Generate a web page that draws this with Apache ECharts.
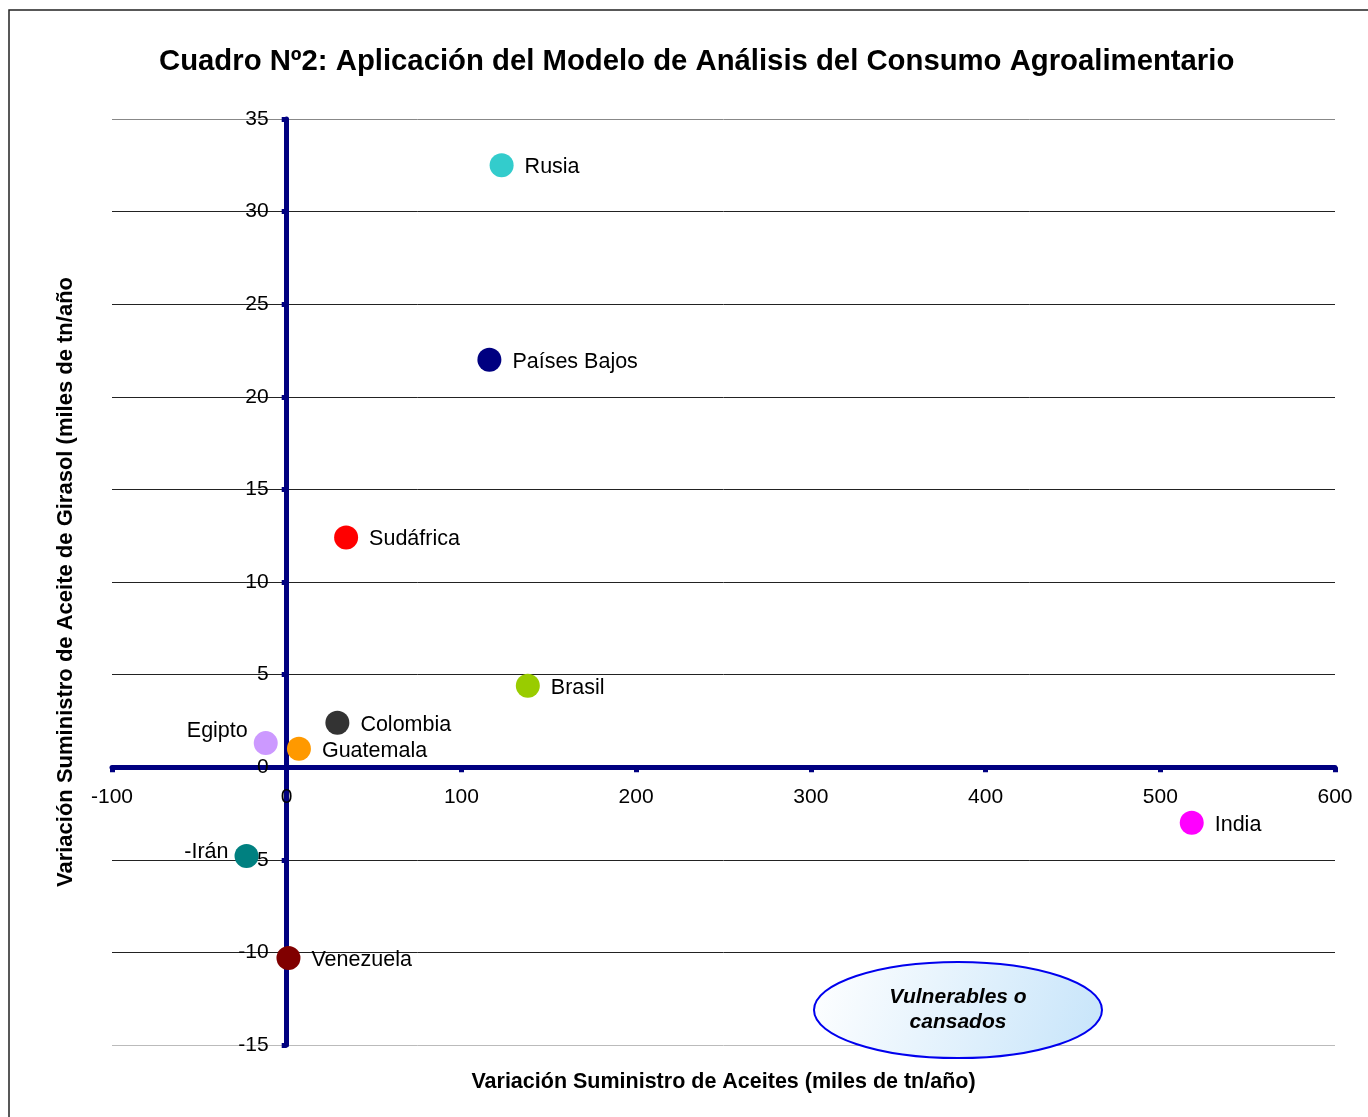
<!DOCTYPE html>
<html>
<head>
<meta charset="utf-8">
<script src="https://cdn.jsdelivr.net/npm/echarts@6/dist/echarts.min.js"></script>
<style>
html,body{margin:0;padding:0;background:#fff;}
#chart{width:1368px;height:1117px;}
</style>
</head>
<body>
<div id="chart"></div>
<script>
var countries = ['Rusia','Países Bajos','Sudáfrica','Brasil','Colombia','Egipto','Guatemala','-Irán','Venezuela','India'];
var xValues = [123, 116, 34, 138, 29, -12, 7, -23, 1, 518];
var yValues = [32.5, 22.0, 12.4, 4.4, 2.4, 1.3, 1.0, -4.8, -10.3, -3.0];
var colors = ['#33CCCC','#000080','#FF0000','#99CC00','#333333','#CC99FF','#FF9900','#008080','#800000','#FF00FF'];
var labelSide = ['right','right','right','right','right','left','right','left','right','right'];
var labelShift = [[0,2],[0,2],[0,2],[0,2],[0,2],[0,-12],[0,2],[0,-4],[0,2],[0,2]];
var gridColors = ['#bbbbbb','#222222','#222222','#222222','#222222','#222222','#222222','#222222','#222222','#222222','#888888'];

var X_MIN = -100, X_MAX = 600, Y_MIN = -15, Y_MAX = 35;
var G_LEFT = 112, G_RIGHT = 33, G_TOP = 119, G_BOTTOM = 72, W = 1368, H = 1117;
var plotW = W - G_LEFT - G_RIGHT, plotH = H - G_TOP - G_BOTTOM;
// shift axes so they cross at zero (line, ticks and labels together)
var yAxisOffset = -plotW * (0 - X_MIN) / (X_MAX - X_MIN);
var xAxisOffset = -plotH * (0 - Y_MIN) / (Y_MAX - Y_MIN);

var chart = echarts.init(document.getElementById('chart'));
var font = 'Liberation Sans, Arial, sans-serif';

var data = countries.map(function(c, i){
  return {
    name: c,
    value: [xValues[i], yValues[i]],
    itemStyle: {color: colors[i], opacity: 1},
    label: {position: labelSide[i], offset: labelShift[i], distance: labelSide[i]==='left' ? 6 : 11}
  };
});

chart.setOption({
  animation: false,
  backgroundColor: '#fff',
  textStyle: {fontFamily: font},
  title: {
    text: 'Cuadro Nº2: Aplicación del Modelo de Análisis del Consumo Agroalimentario',
    left: 154, top: 42,
    textStyle: {fontSize: 29.3, fontWeight: 'bold', color: '#000', fontFamily: font}
  },
  grid: {left: G_LEFT, right: G_RIGHT, top: G_TOP, bottom: G_BOTTOM, containLabel: false, outerBoundsMode: 'none'},
  xAxis: {
    type: 'value', min: X_MIN, max: X_MAX, interval: 100,
    position: 'bottom', offset: xAxisOffset,
    axisLine: {show: true, onZero: false, lineStyle: {color: '#000080', width: 5}},
    axisTick: {show: true, length: 5, lineStyle: {color: '#000080', width: 5}},
    axisLabel: {color: '#000', fontSize: 21, margin: 20, fontFamily: font},
    splitLine: {show: false},
    name: 'Variación Suministro de Aceites (miles de tn/año)',
    nameLocation: 'middle', nameGap: 304,
    nameTextStyle: {fontSize: 21.5, fontWeight: 'bold', color: '#000', fontFamily: font}
  },
  yAxis: {
    type: 'value', min: Y_MIN, max: Y_MAX, interval: 5,
    position: 'left', offset: yAxisOffset,
    axisLine: {show: true, onZero: false, lineStyle: {color: '#000080', width: 5}},
    axisTick: {show: true, length: 5, lineStyle: {color: '#000080', width: 5}},
    axisLabel: {color: '#000', fontSize: 21, margin: 18, fontFamily: font},
    splitLine: {show: true, lineStyle: {color: gridColors, width: 1}},
    name: 'Variación Suministro de Aceite de Girasol (miles de tn/año',
    nameLocation: 'middle', nameGap: 210,
    nameTextStyle: {fontSize: 22, fontWeight: 'bold', color: '#000', fontFamily: font}
  },
  series: [{
    type: 'scatter',
    symbolSize: 24,
    data: data,
    label: {show: true, formatter: '{b}', color: '#000', fontSize: 21.5, fontFamily: font},
    z: 5
  }],
  graphic: [
    {type: 'rect', shape: {x: 9, y: 10, width: 1400, height: 1200}, style: {fill: null, stroke: '#222', lineWidth: 1.5}, silent: true, z: -1},
    {type: 'ellipse', shape: {cx: 958, cy: 1010, rx: 144, ry: 48},
      style: {fill: new echarts.graphic.LinearGradient(0,0,1,1,[{offset:0,color:'#ffffff'},{offset:1,color:'#c6e4fa'}]), stroke: '#0000ee', lineWidth: 2}, z: 10},
    {type: 'text', x: 958, y: 1010, z: 11,
      style: {text: 'Vulnerables o\ncansados', align: 'center', verticalAlign: 'middle', lineHeight: 25, fill: '#000', font: 'italic bold 21px Liberation Sans, Arial, sans-serif'}}
  ]
});
</script>
</body>
</html>
